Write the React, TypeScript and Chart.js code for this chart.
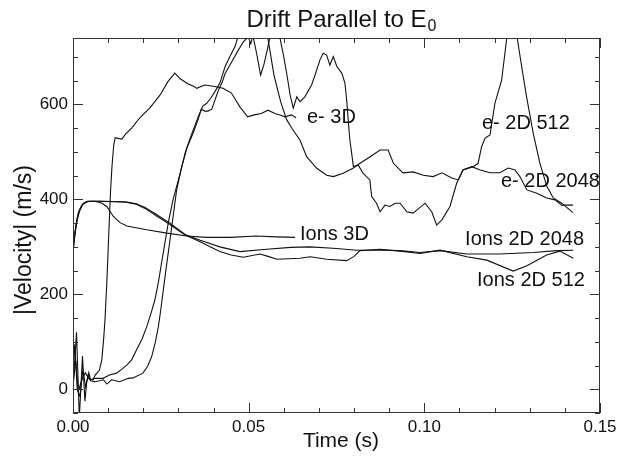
import React, { useEffect, useRef } from 'react';
import { Chart, registerables } from 'chart.js';

Chart.register(...registerables);

// ---- data (time in s, |velocity| in m/s) ----
const e3dTime = [0, 0.0008, 0.0015, 0.0025, 0.0035, 0.0045, 0.0057, 0.0063, 0.0075, 0.0082, 0.0087, 0.0091, 0.0096, 0.0102, 0.0107, 0.0111, 0.0116, 0.0120, 0.0130, 0.0139, 0.0150, 0.0167, 0.0190, 0.0219, 0.0248, 0.0270, 0.0290, 0.0305, 0.0328, 0.0345, 0.0352, 0.0375, 0.0403, 0.0427, 0.0451, 0.0475, 0.0497, 0.0516, 0.0536, 0.0555, 0.0575, 0.0589, 0.0603, 0.0622, 0.0635];
const e3dVel = [10, 60, -5, 20, 35, 22, 20, 30, 40, 62, 104, 146, 220, 330, 420, 470, 515, 530, 528, 527, 538, 550, 572, 593, 620, 648, 666, 654, 643, 638, 634, 641, 638, 634, 624, 595, 574, 578, 581, 588, 581, 578, 574, 578, 572];

const e512Time = [0, 0.0005, 0.0012, 0.0020, 0.0028, 0.0036, 0.0043, 0.0050, 0.0063, 0.0087, 0.0096, 0.0110, 0.0133, 0.0157, 0.0171, 0.0199, 0.0212, 0.0224, 0.0234, 0.0243, 0.0250, 0.0257, 0.0266, 0.0276, 0.0295, 0.0310, 0.0325, 0.0342, 0.0357, 0.0365, 0.0375, 0.0384, 0.0395, 0.0404, 0.0414, 0.0425, 0.0433, 0.0452, 0.0471, 0.0485, 0.0499, 0.0506, 0.0512, 0.0522, 0.0534, 0.0543, 0.0554, 0.0565, 0.0580, 0.0589, 0.0599, 0.0609, 0.0618, 0.0627, 0.0637, 0.0646, 0.0660, 0.0679, 0.0689, 0.0703, 0.0712, 0.0722, 0.0731, 0.0741, 0.0751, 0.0765, 0.0774, 0.0779, 0.0784, 0.0788, 0.0793, 0.0798, 0.0812, 0.0826, 0.0845, 0.0850, 0.0864, 0.0874, 0.0888, 0.0902, 0.0917, 0.0931, 0.0950, 0.0968, 0.1002, 0.1021, 0.1035, 0.1050, 0.1073, 0.1092, 0.1110, 0.1139, 0.1153, 0.1163, 0.1173, 0.1187, 0.1201, 0.1220, 0.1234, 0.1245, 0.1258, 0.1277, 0.1291, 0.1310, 0.1329, 0.1349, 0.1367, 0.1391, 0.1423];
const e512Vel = [40, 95, 0, -15, 40, 5, 30, 18, 16, 20, 11, 20, 16, 23, 24, 34, 48, 69, 98, 132, 168, 209, 260, 314, 420, 470, 510, 540, 570, 590, 586, 586, 590, 609, 630, 648, 665, 690, 715, 732, 742, 728, 745, 710, 662, 683, 718, 760, 790, 740, 704, 662, 620, 592, 616, 606, 616, 641, 662, 694, 708, 704, 683, 701, 680, 666, 645, 609, 561, 525, 498, 469, 472, 455, 441, 406, 392, 374, 388, 385, 392, 392, 374, 371, 392, 374, 346, 357, 385, 434, 462, 469, 476, 511, 529, 536, 603, 651, 736, 770, 770, 680, 616, 539, 476, 427, 403, 392, 372];

const e2048Time = [0, 0.0010, 0.0018, 0.0027, 0.0034, 0.0039, 0.0045, 0.0050, 0.0063, 0.0085, 0.0104, 0.0124, 0.0142, 0.0153, 0.0167, 0.0181, 0.0196, 0.0210, 0.0222, 0.0233, 0.0243, 0.0252, 0.0262, 0.0271, 0.0285, 0.0300, 0.0310, 0.0320, 0.0333, 0.0342, 0.0357, 0.0370, 0.0380, 0.0392, 0.0404, 0.0418, 0.0433, 0.0446, 0.0461, 0.0472, 0.0490, 0.0520, 0.0545, 0.0555, 0.0572, 0.0591, 0.0608, 0.0623, 0.0646, 0.0665, 0.0693, 0.0722, 0.0741, 0.0769, 0.0798, 0.0817, 0.0846, 0.0874, 0.0897, 0.0912, 0.0939, 0.0968, 0.0997, 0.1025, 0.1050, 0.1078, 0.1097, 0.1110, 0.1135, 0.1159, 0.1187, 0.1215, 0.1239, 0.1258, 0.1272, 0.1292, 0.1320, 0.1348, 0.1372, 0.1391, 0.1423];
const e2048Vel = [0, 120, -60, 70, -25, 15, 35, 20, 23, 23, 30, 34, 44, 51, 62, 83, 105, 132, 160, 188, 225, 266, 310, 350, 400, 441, 470, 500, 528, 546, 575, 597, 602, 613, 627, 645, 680, 700, 722, 748, 775, 790, 765, 738, 662, 606, 568, 550, 525, 490, 466, 451, 448, 455, 466, 476, 490, 504, 504, 476, 456, 458, 451, 448, 456, 445, 441, 462, 469, 462, 456, 456, 466, 462, 448, 420, 413, 403, 399, 388, 388];

const i3dTime = [0, 0.0008, 0.0015, 0.0025, 0.0040, 0.0060, 0.0080, 0.0096, 0.0115, 0.0134, 0.0153, 0.0210, 0.0267, 0.0324, 0.0380, 0.0450, 0.0520, 0.0580, 0.0632];
const i3dVel = [300, 345, 372, 388, 395, 396, 393, 385, 364, 351, 344, 336, 329, 323, 320, 320, 323, 321, 320];

const i2048Time = [0, 0.0006, 0.0012, 0.0020, 0.0030, 0.0045, 0.0080, 0.0150, 0.0180, 0.0205, 0.0238, 0.0276, 0.0319, 0.0362, 0.0418, 0.0475, 0.0551, 0.0620, 0.0675, 0.0740, 0.0808, 0.0874, 0.0931, 0.0988, 0.1045, 0.1121, 0.1215, 0.1310, 0.1377, 0.1424];
const i2048Vel = [290, 330, 360, 380, 392, 396, 396, 395, 391, 383, 368, 350, 326, 314, 300, 290, 295, 299, 300, 297, 293, 293, 292, 288, 292, 285, 285, 288, 292, 293];

const i512Time = [0, 0.0004, 0.0010, 0.0018, 0.0028, 0.0040, 0.0080, 0.0150, 0.0180, 0.0205, 0.0238, 0.0276, 0.0319, 0.0362, 0.0390, 0.0418, 0.0450, 0.0485, 0.0532, 0.0555, 0.0580, 0.0646, 0.0675, 0.0722, 0.0779, 0.0800, 0.0817, 0.0874, 0.0931, 0.0988, 0.1045, 0.1121, 0.1178, 0.1253, 0.1292, 0.1348, 0.1386, 0.1424];
const i512Vel = [285, 318, 350, 374, 390, 396, 396, 394, 390, 381, 365, 347, 325, 311, 300, 290, 283, 278, 285, 280, 274, 276, 279, 274, 271, 280, 292, 295, 291, 286, 293, 279, 272, 249, 260, 283, 291, 276];

// curve labels and where they sit (left edge, vertical centre) in data units
const labelTexts = ['e- 3D', 'e- 2D 512', 'e- 2D 2048', 'Ions 3D', 'Ions 2D 2048', 'Ions 2D 512'];
const labelTime = [0.0666, 0.1164, 0.1218, 0.0646, 0.1116, 0.1150];
const labelVel = [572, 559, 437, 326, 315, 230];

const xMin = 0, xMax = 0.15, xMajor = 0.05, xMinor = 0.01;
const yMin = -50, yMax = 740, yMajor = 200, yMinor = 50;

const titleText = 'Drift Parallel to E';
const titleSub = '0';
const xTitle = 'Time (s)';
const yTitle = '|Velocity| (m/s)';

const FONT = '"Liberation Sans", Arial, Helvetica, sans-serif';
const INK = '#111';

function pts(t: number[], v: number[]) {
  return t.map((tt, i) => ({ x: tt, y: v[i] }));
}

const overlay = {
  id: 'overlay',
  afterDraw(chart: any) {
    const { ctx, chartArea, scales } = chart;
    const { left, right, top, bottom } = chartArea;
    const x = scales.x, y = scales.y;
    ctx.save();
    ctx.strokeStyle = '#333';
    ctx.lineWidth = 1;
    ctx.strokeRect(left + 0.5, top + 0.5, right - left - 1, bottom - top - 1);
    ctx.beginPath();
    const nx = Math.round((xMax - xMin) / xMinor);
    for (let i = 0; i <= nx; i++) {
      const t = xMin + i * xMinor;
      const px = Math.round(x.getPixelForValue(t)) + 0.5;
      const major = i % Math.round(xMajor / xMinor) === 0;
      const len = major ? 10 : 5;
      ctx.moveTo(px, bottom); ctx.lineTo(px, bottom - len);
      ctx.moveTo(px, top); ctx.lineTo(px, top + len);
    }
    for (let v = yMin; v <= yMax; v += yMinor) {
      const py = Math.round(y.getPixelForValue(v)) + 0.5;
      const len = v % yMajor === 0 ? 10 : 5;
      ctx.moveTo(left, py); ctx.lineTo(left + len, py);
      ctx.moveTo(right, py); ctx.lineTo(right - len, py);
    }
    ctx.stroke();

    // curve labels
    ctx.fillStyle = INK;
    ctx.font = `20px ${FONT}`;
    ctx.textAlign = 'left';
    ctx.textBaseline = 'middle';
    labelTexts.forEach((s, i) => {
      ctx.fillText(s, x.getPixelForValue(labelTime[i]), y.getPixelForValue(labelVel[i]));
    });

    // title with subscript
    ctx.textBaseline = 'alphabetic';
    ctx.font = `24px ${FONT}`;
    const w1 = ctx.measureText(titleText).width;
    ctx.font = `16px ${FONT}`;
    const w2 = ctx.measureText(titleSub).width;
    const start = 341 - (w1 + w2) / 2;
    ctx.font = `24px ${FONT}`;
    ctx.fillText(titleText, start, 27);
    ctx.font = `16px ${FONT}`;
    ctx.fillText(titleSub, start + w1 + 1, 31);

    // axis titles
    ctx.font = `21px ${FONT}`;
    ctx.textAlign = 'center';
    ctx.textBaseline = 'middle';
    ctx.fillText(xTitle, 341, 441);
    ctx.font = `23px ${FONT}`;
    ctx.translate(25, 240);
    ctx.rotate(-Math.PI / 2);
    ctx.fillText(yTitle, 0, 0);
    ctx.restore();
  },
};

export default function App() {
  const ref = useRef<HTMLCanvasElement>(null);
  useEffect(() => {
    if (!ref.current) return;
    const line = (t: number[], v: number[]) => ({
      data: pts(t, v),
      borderColor: INK,
      borderWidth: 1.1,
      pointRadius: 0,
      tension: 0,
      fill: false,
    });
    const chart = new Chart(ref.current, {
      type: 'line',
      data: {
        datasets: [
          line(e3dTime, e3dVel),
          line(e512Time, e512Vel),
          line(e2048Time, e2048Vel),
          line(i3dTime, i3dVel),
          line(i2048Time, i2048Vel),
          line(i512Time, i512Vel),
        ],
      },
      options: {
        responsive: false,
        devicePixelRatio: 1,
        animation: false,
        layout: { padding: { left: 0, right: 28, top: 38, bottom: 0 } },
        plugins: { legend: { display: false }, tooltip: { enabled: false }, title: { display: false } },
        scales: {
          x: {
            type: 'linear',
            min: xMin,
            max: xMax,
            grid: { display: false, drawTicks: false },
            border: { display: false },
            ticks: {
              stepSize: xMajor,
              color: INK,
              font: { family: FONT, size: 17 },
              padding: 4,
              maxRotation: 0,
              autoSkip: false,
              callback: (v: any) => Number(v).toFixed(2),
            },
            afterFit: (s: any) => { s.height = 45; },
          },
          y: {
            type: 'linear',
            min: yMin,
            max: yMax,
            grid: { display: false, drawTicks: false },
            border: { display: false },
            ticks: {
              stepSize: yMinor,
              color: INK,
              font: { family: FONT, size: 17 },
              padding: 5,
              autoSkip: false,
              callback: (v: any) => (Number(v) % yMajor === 0 ? String(v) : ''),
            },
            afterFit: (s: any) => { s.width = 73; },
          },
        },
      },
      plugins: [overlay],
    });
    return () => chart.destroy();
  }, []);
  return (
    <div style={{ position: 'absolute', left: 0, top: 0, width: 628, height: 458, background: '#fff' }}>
      <canvas ref={ref} width={628} height={458} style={{ display: 'block' }} />
    </div>
  );
}
